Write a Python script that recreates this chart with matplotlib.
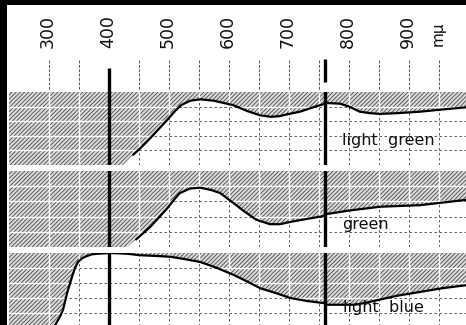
import matplotlib

matplotlib.use('Agg')
import matplotlib.pyplot as plt
from matplotlib import font_manager
from matplotlib.patches import Rectangle

# wavelength scale (m\u03bc)
x_min, x_max = 233, 995
grid_nm = [300, 350, 450, 500, 550, 600, 650, 700, 750, 800, 850, 900, 950]
tick_nm = [300, 350, 450, 500, 550, 600, 650, 700, 750, 800, 850, 900, 950]
label_nm = [300, 400, 500, 600, 700, 800, 900]
unit_nm = 950
unit_label = "m\u03bc"
limit_nm = [400, 760]
grid_val = [20, 40, 60, 80]

# light green filter, left / right of the 760 line
lg_left_nm = [423, 440, 452, 470, 497, 510, 520, 535, 552, 575, 607, 630, 652, 670, 685, 700, 718, 740, 760]
lg_left_val = [0, 14, 23, 38, 62, 74, 82, 88, 90, 88, 82, 74, 68, 66, 67, 70, 73, 79, 84]
lg_right_nm = [760, 785, 800, 818, 835, 852, 880, 918, 955, 995]
lg_right_val = [85, 84, 80, 73, 71, 70, 71, 73, 76, 79]

# green filter
g_left_nm = [430, 445, 468, 497, 510, 518, 535, 552, 570, 585, 607, 625, 645, 668, 685, 702, 730, 760]
g_left_val = [0, 10, 26, 51, 64, 71, 77, 78, 75, 71, 58, 47, 36, 30, 30, 33, 37, 41]
g_right_nm = [760, 800, 852, 918, 995]
g_right_val = [43, 48, 53, 55, 62]

# light blue filter
lb_left_nm = [305, 310, 318, 323, 330, 338, 343, 348, 355, 360, 370, 380, 402, 430, 452, 480,
              502, 525, 552, 580, 607, 630, 652, 680, 702, 730, 760]
lb_left_val = [0, 4, 15, 24, 47, 68, 80, 88, 93, 95, 98, 99, 100, 99, 97, 96,
               95, 92, 88, 80, 71, 62, 53, 46, 40, 36, 33]
lb_right_nm = [760, 790, 810, 830, 852, 880, 918, 955, 995]
lb_right_val = [31, 31, 31, 34, 38, 43, 48, 53, 57]

names = ["light  green", "green", "light  blue"]
name_nm = [788, 788, 790]
name_val = [34, 29, 27]

panels = [
    (lg_left_nm, lg_left_val, lg_right_nm, lg_right_val),
    (g_left_nm, g_left_val, g_right_nm, g_right_val),
    (lb_left_nm, lb_left_val, lb_right_nm, lb_right_val),
]
# panel extents in pixels (top, bottom)
panel_px = [(92, 165), (171, 247), (253, 328)]

W, H = 466, 325
LEFT = 9

available = {f.name for f in font_manager.fontManager.ttflist}
num_font = 'Liberation Sans Narrow' if 'Liberation Sans Narrow' in available else 'DejaVu Sans'

plt.rcParams['hatch.linewidth'] = 0.6
plt.rcParams['hatch.color'] = '#4a4a4a'

fig = plt.figure(figsize=(W / 100, H / 100), dpi=100)
fig.patch.set_facecolor('white')


def fx(px):
    return px / W


def fy(px):
    return 1 - px / H


for i, (lnm, lval, rnm, rval) in enumerate(panels):
    top, bot = panel_px[i]
    ax = fig.add_axes([fx(LEFT), fy(bot), 1 - fx(LEFT), (bot - top) / H])
    ax.set_xlim(x_min, x_max)
    ax.set_ylim(0, 100)
    ax.axis('off')

    # dashed grid seen in the clear area
    ax.vlines(grid_nm, 0, 100, colors='#444444', linewidth=0.6, linestyles=(0, (3, 3)), zorder=1)
    ax.hlines(grid_val, x_min, x_max, colors='#444444', linewidth=0.6, linestyles=(0, (3, 3)), zorder=1)

    xs = [x_min] + lnm + rnm
    ys = [0] + lval + rval
    fill = ax.fill_between(xs, ys, 100, facecolor='#dadada', edgecolor='#4a4a4a',
                           hatch='////////', linewidth=0, zorder=2)
    clip = (fill.get_paths()[0], ax.transData)

    # white grid lines through the hatched area
    wv = ax.vlines(grid_nm, 0, 100, colors='white', linewidth=1.0, zorder=3)
    wh = ax.hlines(grid_val, x_min, x_max, colors='white', linewidth=1.0, zorder=3)
    wv.set_clip_path(*clip)
    wh.set_clip_path(*clip)

    ax.plot(lnm[1:], lval[1:], color='black', linewidth=1.6, zorder=4,
            solid_capstyle='round')
    ax.plot(rnm, rval, color='black', linewidth=1.6, zorder=4, solid_capstyle='round')
    for nm in limit_nm:
        ax.axvline(nm, color='black', linewidth=2.4, zorder=5)

    ax.text(name_nm[i], name_val[i], names[i], fontsize=11.5, ha='left', va='center',
            color='#111111', zorder=6)

# scale strip at the top
strip = fig.add_axes([fx(LEFT), fy(92), 1 - fx(LEFT), 92 / H])
strip.set_xlim(x_min, x_max)
strip.set_ylim(92, 0)
strip.axis('off')
strip.vlines(tick_nm, 60, 90, colors='#555555', linewidth=0.7, linestyles=(0, (3, 1.5)))
strip.vlines(limit_nm[0], 68, 92, colors='black', linewidth=2.4)
strip.vlines(limit_nm[1], 59, 82, colors='black', linewidth=2.4)
for nm in label_nm:
    strip.text(nm - 2, 48, str(nm), rotation=90, ha='center', va='bottom',
               fontsize=12.5, family=num_font, color='#111111')
strip.text(unit_nm - 2, 46, unit_label, rotation=90, ha='center', va='bottom',
           fontsize=11, family=num_font, color='#111111')

# black scan borders
fig.patches.append(Rectangle((0, 0), fx(7), 1, transform=fig.transFigure,
                             facecolor='black', edgecolor='none', zorder=10))
fig.patches.append(Rectangle((0, fy(5)), 1, 5 / H, transform=fig.transFigure,
                             facecolor='black', edgecolor='none', zorder=10))

fig.savefig('out.png', dpi=100, facecolor='white')
plt.close(fig)
